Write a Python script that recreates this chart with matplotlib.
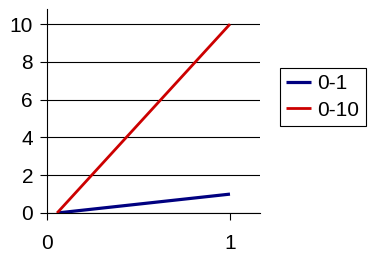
import matplotlib
matplotlib.use('Agg')
import matplotlib.pyplot as plt

plt.rcParams['font.family'] = ['Liberation Sans', 'DejaVu Sans']

# datos
x_vals = [0.055, 1]
serie_0_1 = [0, 1]
serie_0_10 = [0, 10]
nombres = ['0-1', '0-10']
colores = ['#000080', '#CC0000']

fig = plt.figure(figsize=(3.68, 2.65), dpi=100)
ax = fig.add_axes([47/368, 52/265, 213/368, 204/265])

ax.plot(x_vals, serie_0_1, color=colores[0], lw=2.3, label=nombres[0], solid_capstyle='butt')
ax.plot(x_vals, serie_0_10, color=colores[1], lw=2.0, label=nombres[1], solid_capstyle='butt')

ax.set_xlim(0, 1.164)
ax.set_ylim(0, 10.8)
ax.set_xticks([0, 1])
ax.set_yticks([0, 2, 4, 6, 8, 10])
ax.yaxis.grid(True, color='black', lw=0.8)
ax.set_axisbelow(True)

for s in ['top', 'right']:
    ax.spines[s].set_visible(False)
ax.spines['left'].set_linewidth(0.8)
ax.spines['bottom'].set_linewidth(0.8)

ax.tick_params(axis='y', length=5, width=0.8, pad=5, labelsize=15)
ax.tick_params(axis='x', length=5, width=0.8, pad=10, labelsize=15)

leg = ax.legend(loc='upper left', bbox_to_anchor=(280/368, 1 - 68/265),
                bbox_transform=fig.transFigure, borderaxespad=0,
                fontsize=15, handlelength=1.2, handletextpad=0.3,
                borderpad=0.3, labelspacing=0.35, fancybox=False,
                framealpha=1, edgecolor='black')
leg.get_frame().set_linewidth(0.8)

fig.savefig('out.png', dpi=100)
